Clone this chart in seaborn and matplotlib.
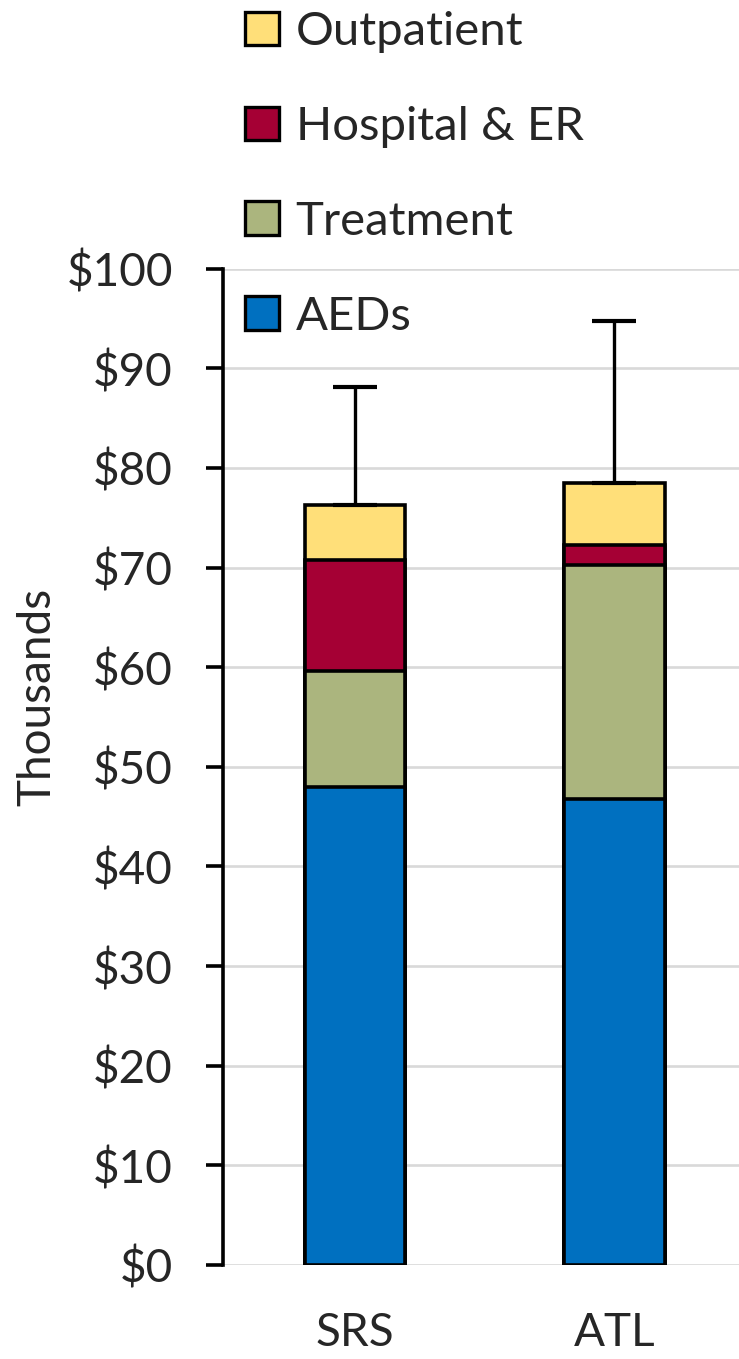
import matplotlib
matplotlib.use("Agg")
import matplotlib.pyplot as plt
from matplotlib.patches import Patch
from matplotlib.ticker import StrMethodFormatter
import numpy as np
import pandas as pd
import seaborn as sns

# cost components per group, in thousands of dollars
groups = ["SRS", "ATL"]
aeds = [48.0, 46.8]
treatment = [11.6, 23.5]
hospital = [11.2, 2.0]
outpatient = [5.5, 6.2]
err_up = [11.8, 16.2]

series_names = ["AEDs", "Treatment", "Hospital & ER", "Outpatient"]
series_colors = ["#0070C0", "#ABB57E", "#A50034", "#FFDF79"]

df = pd.DataFrame({
    "group": groups,
    "AEDs": aeds,
    "Treatment": treatment,
    "Hospital & ER": hospital,
    "Outpatient": outpatient,
})
# cumulative heights, drawn from the tallest layer down
cum = df[series_names].cumsum(axis=1)
totals = cum["Outpatient"].values

sns.set_theme(style="white")
plt.rcParams["font.family"] = ["Lato", "DejaVu Sans"]
fs = 33

fig = plt.figure(figsize=(7.39, 13.59), dpi=100)
ax = fig.add_axes([0.3018, 0.0692, 0.6982, 0.7331])

for name, color in reversed(list(zip(series_names, series_colors))):
    sns.barplot(x=df["group"], y=cum[name], color=color, width=0.385,
                edgecolor="black", linewidth=2.6, saturation=1, ax=ax, zorder=3)

ax.errorbar(x=[0, 1], y=totals, yerr=[np.zeros(2), err_up], fmt="none",
            ecolor="black", elinewidth=2.4, capsize=16, capthick=3.0, zorder=4)

ax.set_xlim(-0.506, 1.479)
ax.set_ylim(0, 100)
ax.set_yticks(np.arange(0, 101, 10))
ax.yaxis.set_major_formatter(StrMethodFormatter("${x:.0f}"))
ax.grid(axis="y", color="#d9d9d9", linewidth=1.9)
ax.set_axisbelow(True)

for s in ["top", "right", "bottom"]:
    ax.spines[s].set_visible(False)
ax.spines["left"].set_color("black")
ax.spines["left"].set_linewidth(2.6)

ax.tick_params(axis="y", which="major", left=True, direction="out", length=12,
               width=2.6, color="black", pad=24, labelsize=fs)
ax.tick_params(axis="x", length=0, pad=34, labelsize=fs)

ax.set_xlabel("")
ax.set_ylabel("Thousands", fontsize=fs, va="center")
ax.yaxis.set_label_coords(-0.36, 0.57)

handles = [Patch(facecolor=c, edgecolor="black", linewidth=2.4)
           for c in reversed(series_colors)]
fig.legend(handles, list(reversed(series_names)), loc="upper left",
           bbox_to_anchor=(245 / 739, 1 - 11 / 1359), frameon=False,
           fontsize=34, handlelength=0.72, handleheight=0.72,
           handletextpad=0.35, labelspacing=1.12, borderpad=0,
           borderaxespad=0)

fig.savefig("out.png", dpi=100)
